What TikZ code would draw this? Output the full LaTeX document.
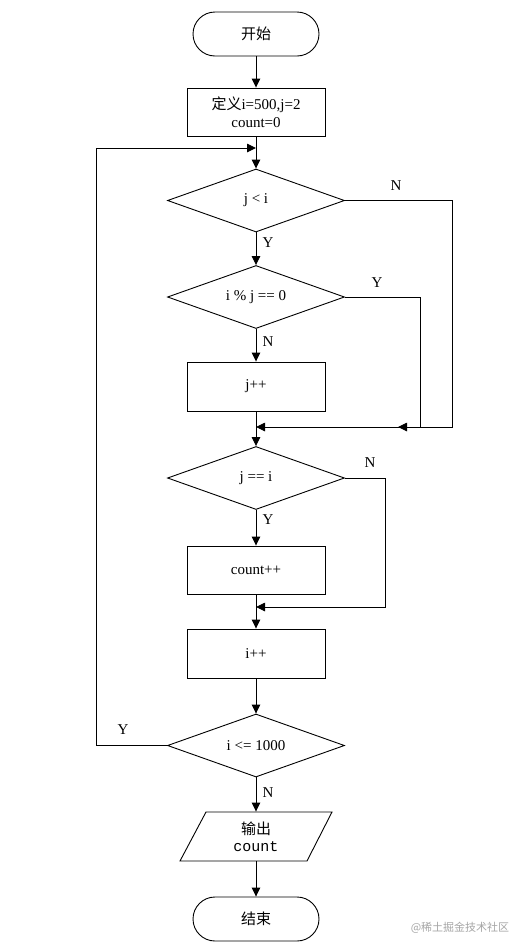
\documentclass[tikz,border=0pt]{standalone}
\usepackage{fontspec}
\setmainfont{Liberation Serif}
\newfontfamily\cjk{Noto Sans CJK SC}
\newfontfamily\monof{Liberation Mono}
\usetikzlibrary{shapes.geometric,arrows.meta}
\newcommand{\zw}[1]{\makebox[0pt][c]{#1}}
\begin{document}
\begin{tikzpicture}[x=1pt,y=-1pt,line width=0.9pt,
  every node/.style={font=\fontsize{15}{18}\selectfont},
  term/.style={draw, rounded corners=22pt, minimum width=126pt, minimum height=44pt, inner sep=0pt},
  proc/.style={draw, minimum width=138pt, minimum height=48pt, inner sep=0pt, align=center},
  dec/.style={draw, diamond, minimum width=177pt, minimum height=63pt, inner sep=0pt},
  arr/.style={-{Triangle[length=9pt,width=8.5pt]}},
  lab/.style={inner sep=0pt}]
\useasboundingbox (0,0) rectangle (526,951);
\fill[white] (0,0) rectangle (526,951);
\node[term] (start) at (256,34) {\cjk 开始};
\node[proc] (init) at (256,112) {{\cjk 定义}i=500,j=2\\count=0};
\node[dec] (d1) at (256,200.5) {\zw{j < i}};
\node[dec] (d2) at (256,297) {\zw{i \% j == 0}};
\node[proc, minimum height=49pt] (jpp) at (256,386.5) {j++};
\node[dec] (d3) at (256,478) {\zw{j == i}};
\node[proc] (cpp) at (256,570) {count++};
\node[proc, minimum height=49pt] (ipp) at (256,653.5) {i++};
\node[dec] (d4) at (256,745.5) {\zw{i <= 1000}};
\node[minimum height=49pt, minimum width=127pt, inner sep=0pt, align=center] (out) at (256,836.5) {{\cjk 输出}\\[-1pt]{\monof count}};
\draw (206,812) -- (332,812) -- (307,861) -- (180,861) -- cycle;
\node[term] (end) at (256,919) {\cjk 结束};
\coordinate (loop) at (256,148);
\coordinate (j1) at (256,427);
\coordinate (j1b) at (398,427);
\coordinate (j2) at (256,607);
% main flow
\draw[arr] (start) -- (init);
\draw[arr] (init) -- (d1);
\draw[arr] (d1) -- (d2);
\draw[arr] (d2) -- (jpp);
\draw[arr] (jpp) -- (d3);
\draw[arr] (d3) -- (cpp);
\draw[arr] (cpp) -- (ipp);
\draw[arr] (ipp) -- (d4);
\draw[arr] (d4) -- (out);
\draw[arr] (out) -- (end);
% branches
\draw[arr] (d1.east) -- (452,200.5) -- (452,427) -- (j1b);
\draw[arr] (d2.east) -- (420,297) -- (420,427) -- (j1);
\draw[arr] (d3.east) -- (385,478) -- (385,607) -- (j2);
\draw[arr] (d4.west) -- (96,745.5) -- (96,148) -- (loop);
% labels
\node[lab] at (396,186) {N};
\node[lab] at (268,243) {Y};
\node[lab] at (377,283) {Y};
\node[lab] at (268,342) {N};
\node[lab] at (370,463) {N};
\node[lab] at (268,520) {Y};
\node[lab] at (123,730) {Y};
\node[lab] at (268,793) {N};
\node[text=black!35, font=\fontsize{11}{13}\selectfont\cjk] (wm) at (460,928) {@稀土掘金技术社区};
\end{tikzpicture}
\end{document}
